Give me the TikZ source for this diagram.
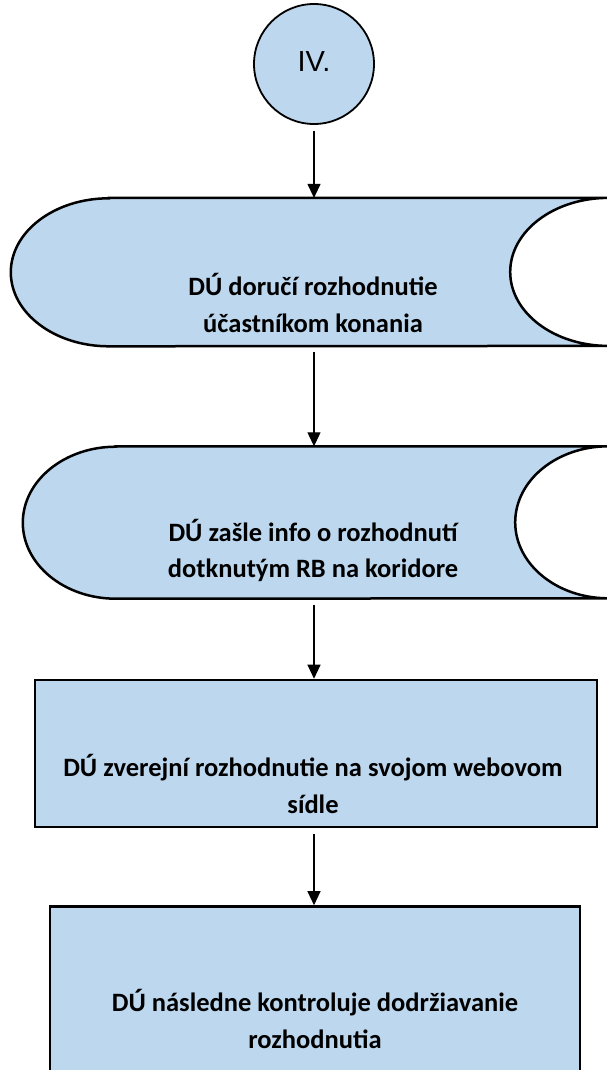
\documentclass[tikz,border=0pt]{standalone}
\usepackage{fontspec}
\setmainfont{Carlito}
\newfontfamily\arialfont{Liberation Sans}
\usetikzlibrary{positioning,arrows.meta,backgrounds}
\definecolor{boxblue}{RGB}{189,215,238}

\begin{document}
\begin{tikzpicture}[
    x=1pt, y=-1pt,
    start/.style = {draw, circle, line width=1.8pt, fill=boxblue, minimum size=120pt, font=\arialfont\fontsize{29}{32}\selectfont},
    store/.style = {inner sep=0pt},
    box/.style = {draw, line width=2.5pt, fill=boxblue, inner sep=0pt},
    txt/.style = {align=center, font=\bfseries\fontsize{26.5}{36.5}\selectfont},
    arr/.style = {-{Triangle[width=13pt,length=14pt]}, line width=1.2pt, shorten <=6pt}
]
\useasboundingbox (0,0) rectangle (606,1070);

\node[start] (iv) at (314,64) {\raisebox{4pt}{IV.}};

\node[store, minimum width=597pt, minimum height=148pt, below=73pt of iv, xshift=-4.5pt,
    label={[txt, xshift=3.5pt, yshift=-31pt]center:{DÚ doručí rozhodnutie\\účastníkom konania}}] (s1) {};
\node[store, minimum width=585pt, minimum height=152pt, below=100pt of s1, xshift=6pt,
    label={[txt, xshift=-2.5pt, yshift=-28pt]center:{DÚ zašle info o rozhodnutí\\dotknutým RB na koridore}}] (s2) {};
\node[box, minimum width=562pt, minimum height=147pt, below=80pt of s2, xshift=0.5pt,
    label={[txt, xshift=-3pt, yshift=-30.5pt]center:{DÚ zverejní rozhodnutie na svojom webovom\\sídle}}] (r3) {};
\node[box, minimum width=530pt, minimum height=173pt, below=77pt of r3, xshift=-1pt,
    label={[txt, yshift=-26pt]center:{DÚ následne kontroluje dodržiavanie\\rozhodnutia}}] (r4) {};

% stored data outlines
\begin{scope}[on background layer]
\foreach \s/\r/\h in {s1/98/74, s2/93/76} {
    \draw[line width=2.5pt, fill=boxblue] ([xshift=\r pt]\s.north west) -- (\s.north east)
        arc[start angle=90, end angle=270, x radius=\r pt, y radius=\h pt]
        -- ([xshift=\r pt]\s.south west)
        arc[start angle=270, end angle=90, x radius=\r pt, y radius=\h pt] -- cycle;
}
\end{scope}

\draw[arr] (iv) -- (iv |- s1.north);
\draw[arr] (iv |- s1.south) -- (iv |- s2.north);
\draw[arr] (iv |- s2.south) -- (iv |- r3.north);
\draw[arr] (iv |- r3.south) -- (iv |- r4.north);

\end{tikzpicture}
\end{document}
